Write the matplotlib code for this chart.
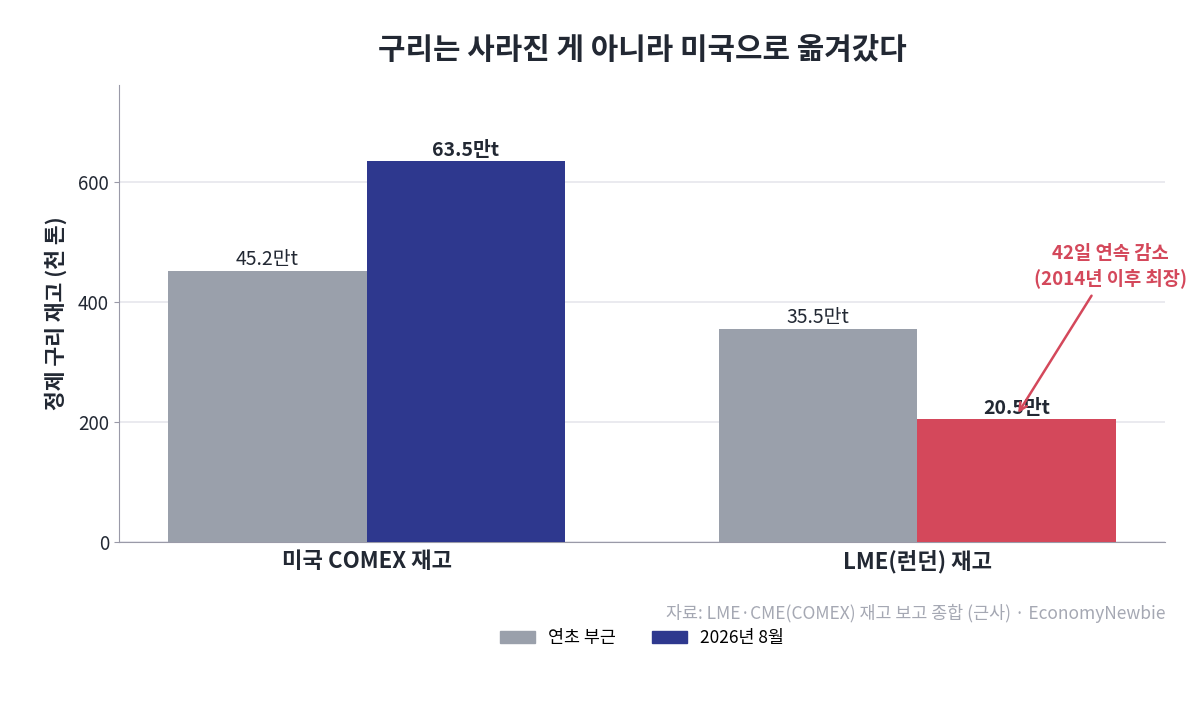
import matplotlib
matplotlib.use('Agg')
import matplotlib.pyplot as plt
from matplotlib.patches import Patch
import numpy as np

plt.rcParams['font.family'] = ['Noto Sans CJK KR', 'DejaVu Sans']

categories = ['미국 COMEX 재고', 'LME(런던) 재고']
series_names = ['연초 부근', '2026년 8월']
start_vals = [452, 355]
aug_vals = [635, 205]
start_labels = ['45.2만t', '35.5만t']
aug_labels = ['63.5만t', '20.5만t']

gray = '#9aa0ab'
navy = '#2e388e'
red = '#d4485b'
dark = '#222833'

fig = plt.figure(figsize=(12, 7.13), dpi=100)
ax = fig.add_axes([0.099, 0.240, 0.872, 0.641])

x = np.arange(len(categories))
w = 0.36
ax.bar(x - w / 2, start_vals, w, color=gray, zorder=3)
ax.bar(x + w / 2, aug_vals, w, color=[navy, red], zorder=3)

for i in range(len(categories)):
    ax.text(x[i] - w / 2, start_vals[i] + 2, start_labels[i], ha='center', va='bottom',
            fontsize=14, color=dark)
    ax.text(x[i] + w / 2, aug_vals[i] + 2, aug_labels[i], ha='center', va='bottom',
            fontsize=14, fontweight='bold', color=dark)

ax.annotate('42일 연속 감소\n(2014년 이후 최장)', xy=(1.183, 215),
            xytext=(1.35, 460), ha='center', va='center',
            fontsize=13.5, fontweight='bold', color=red, linespacing=1.35,
            arrowprops=dict(arrowstyle='->', color=red, lw=1.8, shrinkA=4, shrinkB=0))

ax.set_xlim(-0.45, 1.45)
ax.set_ylim(0, 762)
ax.set_yticks([0, 200, 400, 600])
ax.set_xticks(x)
ax.set_xticklabels(categories, fontsize=16, fontweight='bold', color=dark)
ax.tick_params(axis='x', length=0, pad=6)
ax.tick_params(axis='y', labelsize=13.5, labelcolor=dark, color='#9a9aa8')
ax.set_ylabel('정제 구리 재고 (천 톤)', fontsize=15.5, fontweight='bold', color=dark, labelpad=8)
ax.grid(axis='y', color='#e6e6ec', lw=1.2, zorder=0)
for s in ['top', 'right']:
    ax.spines[s].set_visible(False)
for s in ['left', 'bottom']:
    ax.spines[s].set_color('#9a9aa8')

fig.text(0.535, 0.93, '구리는 사라진 게 아니라 미국으로 옮겨갔다', ha='center', va='center',
         fontsize=21.5, fontweight='bold', color=dark)
fig.text(0.971, 0.14, '자료: LME·CME(COMEX) 재고 보고 종합 (근사) · EconomyNewbie', ha='right',
         va='center', fontsize=12.5, color='#a5a8b3')

handles = [Patch(color=gray), Patch(color=navy)]
fig.legend(handles, series_names, loc='center', bbox_to_anchor=(0.535, 0.105), ncol=2,
           frameon=False, fontsize=12.5, handlelength=2.0, handleheight=0.75,
           handletextpad=0.75, columnspacing=2.1)

fig.savefig('out.png', dpi=100)
